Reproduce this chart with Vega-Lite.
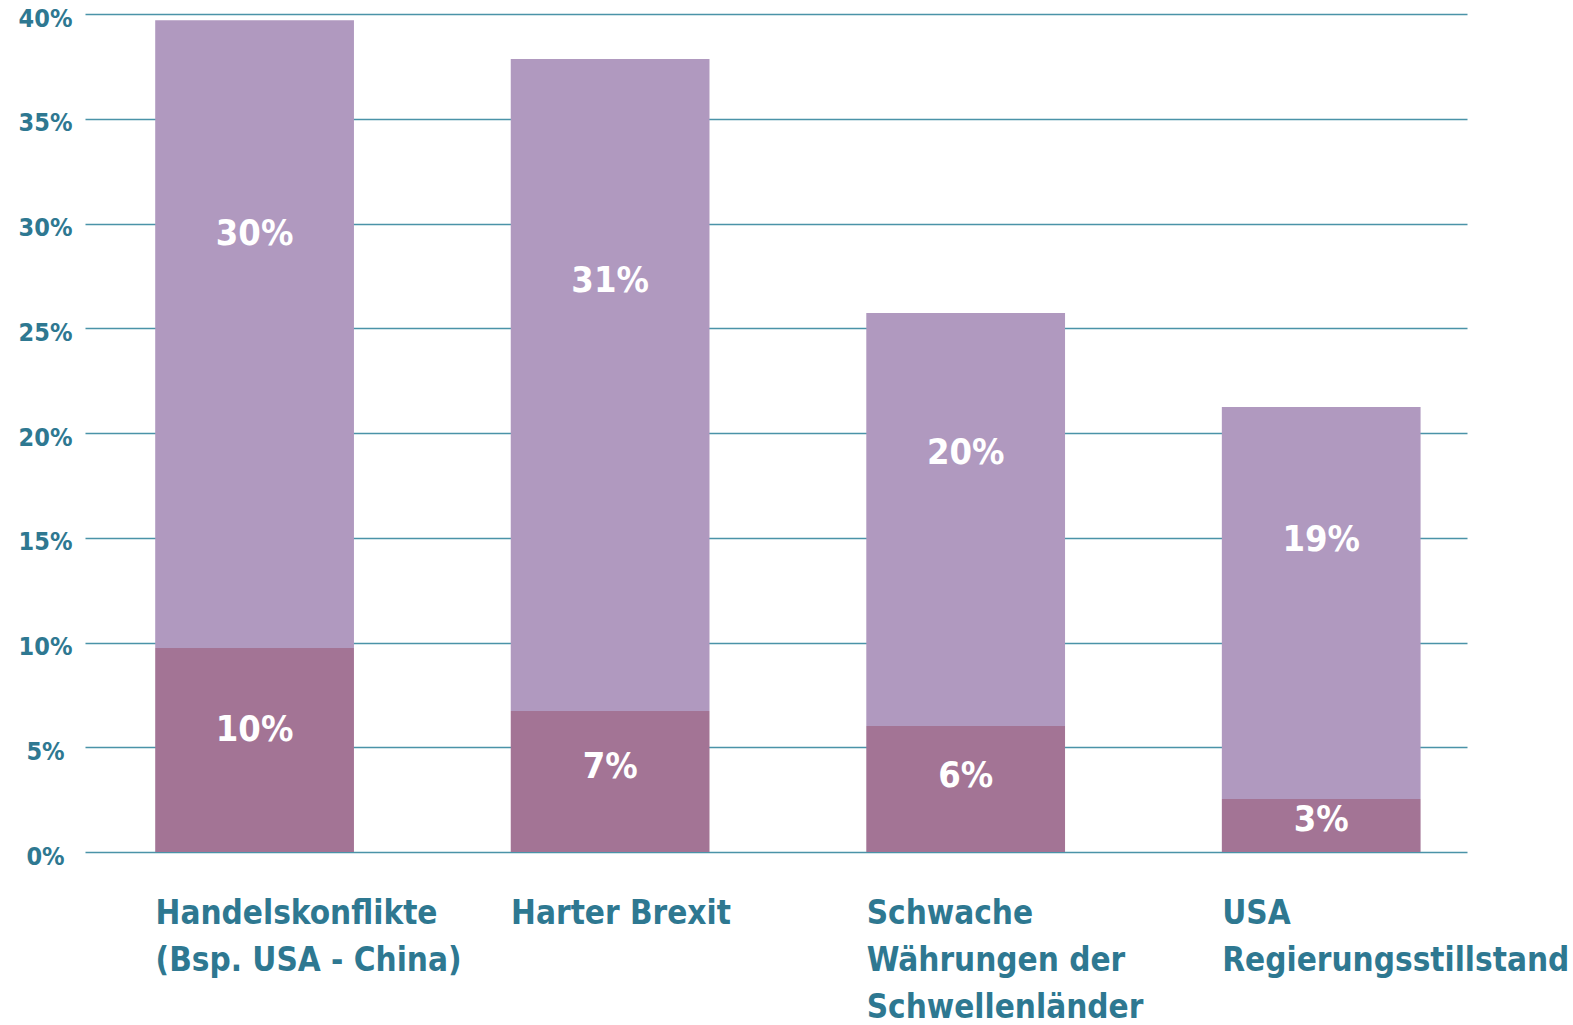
{
  "$schema": "https://vega.github.io/schema/vega-lite/v6.json",
  "autosize": "none",
  "width": 1382,
  "height": 838,
  "padding": {"left": 85, "top": 14, "right": 106, "bottom": 173},
  "background": "white",
  "config": {"view": {"stroke": null}},
  "data": {
    "values": [
      {"cat": "Handelskonflikte|(Bsp. USA - China)", "seg": "unten", "value": 9.74, "label": "10%"},
      {"cat": "Handelskonflikte|(Bsp. USA - China)", "seg": "oben", "value": 29.96, "label": "30%"},
      {"cat": "Harter Brexit", "seg": "unten", "value": 6.73, "label": "7%"},
      {"cat": "Harter Brexit", "seg": "oben", "value": 31.12, "label": "31%"},
      {"cat": "Schwache|Währungen der|Schwellenländer", "seg": "unten", "value": 6.01, "label": "6%"},
      {"cat": "Schwache|Währungen der|Schwellenländer", "seg": "oben", "value": 19.72, "label": "20%"},
      {"cat": "USA|Regierungsstillstand", "seg": "unten", "value": 2.53, "label": "3%"},
      {"cat": "USA|Regierungsstillstand", "seg": "oben", "value": 18.71, "label": "19%"}
    ]
  },
  "transform": [
    {"stack": "value", "groupby": ["cat"], "sort": [{"field": "seg", "order": "descending"}], "as": ["v0", "v1"]},
    {"calculate": "datum.v0 + (datum.seg == 'unten' ? 0.6 : 0.66) * (datum.v1 - datum.v0)", "as": "ly"}
  ],
  "encoding": {
    "x": {
      "field": "cat",
      "type": "nominal",
      "sort": null,
      "title": null,
      "scale": {"paddingInner": 0.441, "paddingOuter": 0.164, "align": 0.602},
      "axis": {
        "orient": "bottom",
        "labelAngle": 0,
        "labelAlign": "left",
        "labelBaseline": "top",
        "labelOffset": -99,
        "labelExpr": "split(datum.value, '|')",
        "labelFont": "Liberation Sans Narrow, DejaVu Sans Condensed, Roboto",
        "labelFontSize": 33,
        "labelFontWeight": "bold",
        "labelColor": "#2e7891",
        "labelLineHeight": 47,
        "labelPadding": 45,
        "labelLimit": 0,
        "labelOverlap": false,
        "domain": false,
        "ticks": false,
        "grid": false
      }
    }
  },
  "layer": [
    {
      "mark": {"type": "bar", "stroke": null},
      "encoding": {
        "y": {
          "field": "v0",
          "type": "quantitative",
          "scale": {"domain": [0, 40], "nice": false},
          "title": null,
          "axis": {
            "values": [0, 5, 10, 15, 20, 25, 30, 35, 40],
            "labelExpr": "datum.value + '%'",
            "labelFont": "Liberation Sans Narrow, DejaVu Sans Condensed, Roboto",
            "labelFontSize": 25,
            "labelFontWeight": "bold",
            "labelColor": "#2e7891",
            "labelAlign": "center",
            "labelBaseline": "middle",
            "labelOffset": 4,
            "labelPadding": 40,
            "domain": false,
            "ticks": false,
            "grid": true,
            "gridColor": "#4a93a8",
            "gridWidth": 1.3
          }
        },
        "y2": {"field": "v1"},
        "color": {
          "field": "seg",
          "type": "nominal",
          "scale": {"domain": ["unten", "oben"], "range": ["#a37495", "#b099bf"]},
          "legend": null
        }
      }
    },
    {
      "mark": {
        "type": "text",
        "color": "white",
        "font": "Liberation Sans Narrow, DejaVu Sans Condensed, Roboto",
        "fontSize": 36,
        "fontWeight": "bold",
        "baseline": "middle",
        "align": "center"
      },
      "encoding": {
        "y": {"field": "ly", "type": "quantitative"},
        "text": {"field": "label"}
      }
    }
  ]
}
